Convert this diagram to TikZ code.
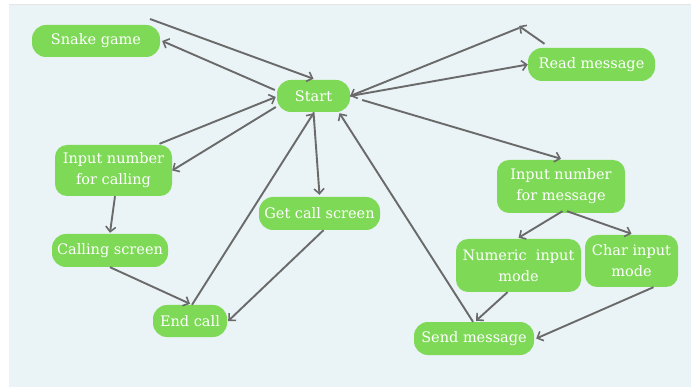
\documentclass[tikz,border=0pt]{standalone}
\usepackage{fontspec}
\setmainfont{DejaVu Serif}
\usetikzlibrary{arrows.meta}
\definecolor{bgc}{HTML}{EAF3F5}
\definecolor{grn}{HTML}{7ED957}
\definecolor{edg}{HTML}{6A6A6A}
\tikzset{
  box/.style={draw=none, fill=grn, text=white, rounded corners=14pt, align=center,
    font=\fontsize{14.5}{21}\selectfont, inner sep=0pt},
  arr/.style={draw=edg, line width=1.9pt, -{Straight Barb[length=5pt,width=10pt,line width=1.6pt]}},
}
\begin{document}
\begin{tikzpicture}[x=1pt,y=-1pt]
\useasboundingbox (0,0) rectangle (696,387);
\fill[white] (0,0) rectangle (696,387);
\fill[bgc] (9,4) rectangle (691,387);
\draw[black!10, line width=0.6pt] (9,4) -- (691,4);

\node[box, minimum width=128pt, minimum height=32pt] (snake) at (96,41) {Snake game};
\node[box, minimum width=73pt, minimum height=32pt] (start) at (313.5,96) {Start};
\node[box, minimum width=127pt, minimum height=33pt] (read) at (591.5,64.5) {Read message};
\node[box, minimum width=117pt, minimum height=51pt, rounded corners=12pt] (inpcall) at (113.5,170.5) {Input number\\for calling};
\node[box, minimum width=116pt, minimum height=33pt] (calling) at (110,250.5) {Calling screen};
\node[box, minimum width=121pt, minimum height=33pt] (getcall) at (319.5,213.5) {Get call screen};
\node[box, minimum width=74pt, minimum height=32pt] (endcall) at (190,321) {End call};
\node[box, minimum width=128pt, minimum height=53pt, rounded corners=12pt] (inpmsg) at (561,186.5) {Input number\\for message};
\node[box, minimum width=125pt, minimum height=53pt, rounded corners=12pt] (numeric) at (518.5,265.5) {Numeric\ \ input\\mode};
\node[box, minimum width=93pt, minimum height=52pt, rounded corners=12pt] (char) at (631.5,261) {Char input\\mode};
\node[box, minimum width=120pt, minimum height=33pt] (send) at (474,338.5) {Send message};

\coordinate (free1) at (150,19);
\coordinate (free2) at (519,26);

\draw[arr] (free1) -- ([yshift=1pt]start.north);
\draw[arr] ([xshift=-2pt,yshift=6pt]start.west) -- ([xshift=2pt]snake.east);
\draw[arr] ([xshift=46pt,yshift=1pt]inpcall.north) -- ([xshift=-1pt,yshift=-1pt]start.west);
\draw[arr] ([xshift=-1pt,yshift=-11pt]start.west) -- (inpcall.east);
\draw[arr] ([xshift=1.5pt]inpcall.south) -- ([yshift=1pt]calling.north);
\draw[arr] (calling.south) -- ([yshift=1pt]endcall.north);
\draw[arr] ([xshift=2pt]endcall.north) -- ([yshift=-1pt]start.south);
\draw[arr] (start.south) -- ([yshift=2pt]getcall.north);
\draw[arr] ([xshift=4pt]getcall.south) -- ([xshift=1pt]endcall.east);
\draw[arr] ([xshift=-47pt,yshift=4pt]read.north) -- (free2);
\draw[arr] ([yshift=-2pt]free2) -- (start.east);
\draw[arr] (start.east) -- (read.west);
\draw[arr] ([xshift=12pt,yshift=-4pt]start.east) -- ([yshift=1pt]inpmsg.north);
\draw[arr] ([xshift=1.5pt,yshift=2pt]inpmsg.south) -- ([yshift=1pt]numeric.north);
\draw[arr] ([xshift=6pt,yshift=2pt]inpmsg.south) -- ([yshift=1pt]char.north);
\draw[arr] ([xshift=-11pt]numeric.south) -- ([xshift=2pt,yshift=1pt]send.north);
\draw[arr] ([xshift=22pt]char.south) -- ([xshift=2pt]send.east);
\draw[arr] ([xshift=-1pt]send.north) -- ([xshift=26pt,yshift=-1pt]start.south);
\end{tikzpicture}
\end{document}
